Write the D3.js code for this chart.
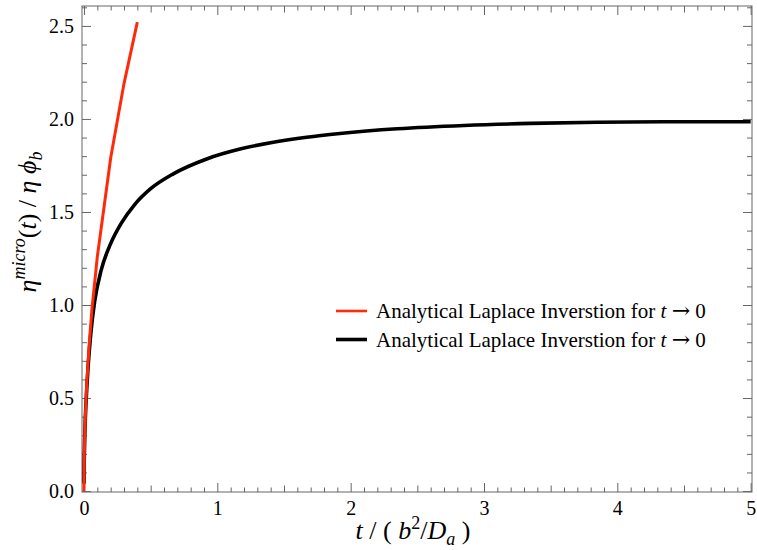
<!DOCTYPE html>
<html>
<head>
<meta charset="utf-8">
<script src="https://cdn.jsdelivr.net/npm/d3@7"></script>
<style>
body { margin: 0; background: #fff; }
text { font-family: "Liberation Serif", "DejaVu Serif", serif; fill: #000; }
.axis path { display: none; }
.axis line { stroke: #666; }
</style>
</head>
<body>
<svg id="chart" width="757" height="550"></svg>
<script>
// data
var xTicks = [0, 1, 2, 3, 4, 5];
var yTicks = [0, 0.5, 1, 1.5, 2, 2.5];

// short time expansion (red), coarse sampling as in the picture
var redT = [0, 0.002, 0.005, 0.01, 0.02, 0.04, 0.06, 0.1, 0.2, 0.3, 0.4];
var redV = [0, 0.18, 0.28, 0.40, 0.57, 0.80, 0.98, 1.26, 1.79, 2.19, 2.52];

// full curve (black)
var blackT = [0.0005, 0.001, 0.003, 0.006, 0.01, 0.02, 0.03, 0.05, 0.08, 0.13, 0.2, 0.28, 0.38, 0.5, 0.67,
              0.92, 1.17, 1.42, 1.67, 1.92, 2.35, 2.85, 3.35, 3.85, 4.35, 5.0];
var blackV = [0.04, 0.12, 0.21, 0.30, 0.39, 0.54, 0.66, 0.84, 1.02, 1.19, 1.33, 1.44, 1.54, 1.625, 1.705,
              1.785, 1.838, 1.875, 1.902, 1.922, 1.947, 1.965, 1.976, 1.982, 1.985, 1.985];

var legendLabels = ['Analytical Laplace Inverstion for ', 'Analytical Laplace Inverstion for '];
var legendColors = ['#ff2a0a', '#000'];

var svg = d3.select('#chart');
var frame = {l: 82, r: 752, t: 6, b: 492};

var x = d3.scaleLinear().domain([-0.015, 5.01]).range([frame.l, frame.r]);
var y = d3.scaleLinear().domain([-0.005, 2.607]).range([frame.b, frame.t]);

var minorX = d3.range(0, 51).map(d => d / 10).filter(d => d % 1 !== 0 && Math.abs(d % 1 - 0.5) > 1e-6);
var midX = d3.range(0, 5).map(d => d + 0.5);
var minorY = d3.range(0, 27).map(d => d / 10).filter(d => Math.abs(d * 2 - Math.round(d * 2)) > 1e-6);

function tickSet(axisFn, scale, vals, size, pos) {
    var g = svg.append('g').attr('class', 'axis').attr('transform', pos);
    g.call(axisFn(scale).tickValues(vals).tickSize(size).tickSizeOuter(0).tickFormat(''));
    return g;
}

// bottom & top
tickSet(d3.axisBottom, x, minorX, -4.5, 'translate(0,' + frame.b + ')');
tickSet(d3.axisBottom, x, midX, -6.5, 'translate(0,' + frame.b + ')');
tickSet(d3.axisBottom, x, xTicks, -9, 'translate(0,' + frame.b + ')');
tickSet(d3.axisTop, x, minorX, -4.5, 'translate(0,' + frame.t + ')');
tickSet(d3.axisTop, x, midX, -6.5, 'translate(0,' + frame.t + ')');
tickSet(d3.axisTop, x, xTicks, -9, 'translate(0,' + frame.t + ')');
// left & right
tickSet(d3.axisLeft, y, minorY, -5, 'translate(' + frame.l + ',0)');
tickSet(d3.axisLeft, y, yTicks, -9, 'translate(' + frame.l + ',0)');
tickSet(d3.axisRight, y, minorY, -5, 'translate(' + frame.r + ',0)');
tickSet(d3.axisRight, y, yTicks, -9, 'translate(' + frame.r + ',0)');

// tick labels
var xl = svg.append('g').attr('transform', 'translate(0,' + frame.b + ')')
    .call(d3.axisBottom(x).tickValues(xTicks).tickSize(0).tickPadding(23).tickFormat(d3.format('d')));
xl.select('.domain').remove();
xl.selectAll('text').style('font-size', '20px').attr('dy', 0).attr('fill', '#000');

var yl = svg.append('g').attr('transform', 'translate(' + frame.l + ',0)')
    .call(d3.axisLeft(y).tickValues(yTicks).tickSize(0).tickPadding(8).tickFormat(d3.format('.1f')));
yl.select('.domain').remove();
yl.selectAll('text').style('font-size', '20px').attr('dy', '0.34em').attr('fill', '#000');

// frame
svg.append('rect')
    .attr('x', frame.l).attr('y', frame.t)
    .attr('width', frame.r - frame.l).attr('height', frame.b - frame.t)
    .attr('fill', 'none').attr('stroke', '#666').attr('stroke-width', 1);

svg.append('clipPath').attr('id', 'clip').append('rect')
    .attr('x', frame.l).attr('y', frame.t)
    .attr('width', frame.r - frame.l).attr('height', frame.b - frame.t);

var plot = svg.append('g').attr('clip-path', 'url(#clip)');

var smooth = d3.line().x(d => x(d[0])).y(d => y(d[1])).curve(d3.curveMonotoneX);
var straight = d3.line().x(d => x(d[0])).y(d => y(d[1]));

plot.append('path')
    .datum(blackT.map((t, i) => [t, blackV[i]]))
    .attr('d', smooth)
    .attr('fill', 'none').attr('stroke', '#000').attr('stroke-width', 3.6);

plot.append('path')
    .datum(redT.map((t, i) => [t, redV[i]]))
    .attr('d', straight)
    .attr('fill', 'none').attr('stroke', legendColors[0]).attr('stroke-width', 3)
    .attr('stroke-linejoin', 'round');

// legend
var leg = svg.append('g');
legendLabels.forEach(function(lab, i) {
    var ly = 311 + i * 28.5;
    leg.append('line')
        .attr('x1', 336).attr('x2', 367).attr('y1', ly).attr('y2', ly)
        .attr('stroke', legendColors[i]).attr('stroke-width', i === 0 ? 2.6 : 3.6);
    var t = leg.append('text').attr('x', 376).attr('y', ly + 7).style('font-size', '21px');
    t.append('tspan').text(lab);
    t.append('tspan').attr('font-style', 'italic').text('t');
    t.append('tspan').text(' ');
    t.append('tspan').style('font-family', '"DejaVu Serif"').style('font-size', '22px').text('\u2192');
    t.append('tspan').text(' 0');
});

// axis titles
var xt = svg.append('text')
    .attr('x', 413).attr('y', 539).attr('text-anchor', 'middle').style('font-size', '26px');
xt.append('tspan').attr('font-style', 'italic').text('t');
xt.append('tspan').text(' / ( ');
xt.append('tspan').attr('font-style', 'italic').text('b');
xt.append('tspan').attr('dy', -10).style('font-size', '18px').text('2');
xt.append('tspan').attr('dy', 10).text('/');
xt.append('tspan').attr('font-style', 'italic').text('D');
xt.append('tspan').attr('dy', 6).attr('font-style', 'italic').style('font-size', '18px').text('a');
xt.append('tspan').attr('dy', -6).text(' )');

var yt = svg.append('text')
    .attr('transform', 'translate(36,222) rotate(-90)')
    .attr('text-anchor', 'middle').style('font-size', '26px');
yt.append('tspan').attr('font-style', 'italic').text('\u03b7');
yt.append('tspan').attr('dy', -11).attr('font-style', 'italic').style('font-size', '18px').text('micro');
yt.append('tspan').attr('dy', 11).text('(');
yt.append('tspan').attr('font-style', 'italic').text('t');
yt.append('tspan').text(') / ');
yt.append('tspan').attr('font-style', 'italic').text('\u03b7 \u03d5');
yt.append('tspan').attr('dy', 6).attr('font-style', 'italic').style('font-size', '18px').text('b');
</script>
</body>
</html>
